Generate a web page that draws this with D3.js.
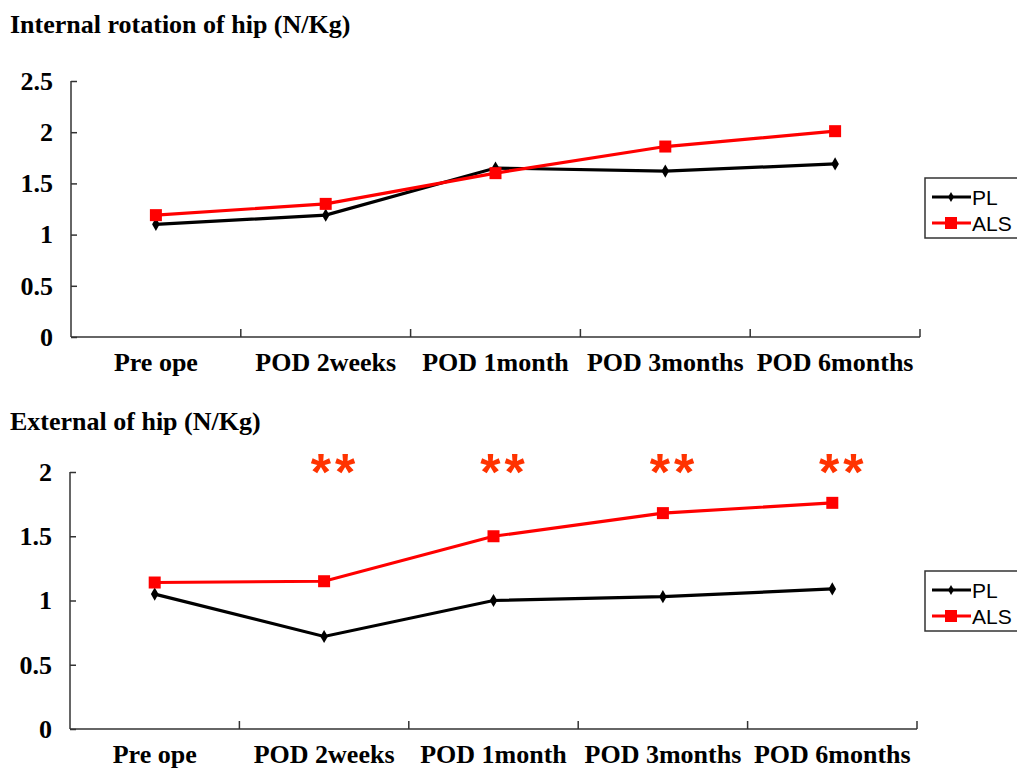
<!DOCTYPE html>
<html>
<head>
<meta charset="utf-8">
<script src="https://cdn.jsdelivr.net/npm/d3@7"></script>
<style>
	body { margin: 0; background: #fff; }
	svg { display: block; }
	.title { font-family: "Liberation Serif", "Times New Roman", serif; font-weight: bold; font-size: 26px; }
	.axis text { font-family: "Liberation Serif", "Times New Roman", serif; font-weight: bold; font-size: 26px; fill: #000; }
	.axis path, .axis line { stroke: #333; stroke-width: 1.5; }
	.legend text { font-family: "Liberation Sans", Arial, sans-serif; font-size: 21px; }
	.star { font-family: "Liberation Sans", Arial, sans-serif; font-weight: bold; font-size: 52px; fill: #ff3300; }
</style>
</head>
<body>
<svg id="chart" width="1017" height="770"></svg>
<script>
const categories = ["Pre ope", "POD 2weeks", "POD 1month", "POD 3months", "POD 6months"]

// Internal rotation of hip (N/Kg)
const internalPL = [1.10, 1.19, 1.65, 1.62, 1.69]
const internalALS = [1.19, 1.30, 1.60, 1.86, 2.01]
const internalTicks = [0, 0.5, 1, 1.5, 2, 2.5]

// External of hip (N/Kg)
const externalPL = [1.05, 0.72, 1.00, 1.03, 1.09]
const externalALS = [1.14, 1.15, 1.50, 1.68, 1.76]
const externalTicks = [0, 0.5, 1, 1.5, 2]
const externalMarks = ["", "**", "**", "**", "**"]

const seriesNames = ["PL", "ALS"]
const seriesColors = ["#000000", "#ff0000"]

const svg = d3.select("#chart")

function drawPanel(opts) {
	const g = svg.append("g")

	g.append("text")
		.attr("class", "title")
		.attr("x", 10)
		.attr("y", opts.titleY)
		.text(opts.title)

	const x = d3.scaleBand()
		.domain(categories)
		.range([opts.left, opts.right])
	const y = d3.scaleLinear()
		.domain([0, d3.max(opts.ticks)])
		.range([opts.bottom, opts.top])

	// y axis
	const yAxis = g.append("g")
		.attr("class", "axis")
		.attr("transform", `translate(${opts.left}, 0)`)
		.call(d3.axisLeft(y).tickValues(opts.ticks).tickFormat(d => d).tickSize(-6).tickPadding(18))
	yAxis.select(".domain").attr("d", `M0,${opts.top}V${opts.bottom}`)

	// x axis, ticks between categories
	const xAxis = g.append("g")
		.attr("class", "axis")
		.attr("transform", `translate(0, ${opts.bottom})`)
		.call(d3.axisBottom(x).tickSize(0).tickPadding(16))
	xAxis.select(".domain").attr("d", `M${opts.left},0H${opts.right}`)
	const bounds = categories.map(c => x(c)).concat([x.range()[1]]).slice(1)
	xAxis.selectAll(".sep")
		.data(bounds)
		.enter().append("line")
			.attr("class", "sep")
			.attr("x1", d => d).attr("x2", d => d)
			.attr("y1", 0).attr("y2", -8)

	const cx = c => x(c) + x.bandwidth() / 2
	const line = d3.line()
		.x((d, i) => cx(categories[i]))
		.y(d => y(d))

	const series = [opts.pl, opts.als]
	series.forEach((vals, s) => {
		g.append("path")
			.datum(vals)
			.attr("fill", "none")
			.attr("stroke", seriesColors[s])
			.attr("stroke-width", 3.2)
			.attr("d", line)
	})

	// PL diamonds
	g.selectAll(".pl")
		.data(opts.pl)
		.enter().append("path")
			.attr("transform", (d, i) => `translate(${cx(categories[i])}, ${y(d)})`)
			.attr("d", d3.symbol(d3.symbolDiamond, 50))
			.attr("fill", seriesColors[0])
	// ALS squares
	g.selectAll(".als")
		.data(opts.als)
		.enter().append("rect")
			.attr("x", (d, i) => cx(categories[i]) - 6)
			.attr("y", d => y(d) - 6)
			.attr("width", 12)
			.attr("height", 12)
			.attr("fill", seriesColors[1])

	if (opts.marks) {
		g.selectAll(".star")
			.data(opts.marks)
			.enter().append("text")
				.attr("class", "star")
				.attr("x", (d, i) => cx(categories[i]) + 11)
				.attr("y", opts.starY)
				.attr("text-anchor", "middle")
				.attr("letter-spacing", 4)
				.text(d => d)
	}

	// legend
	const lg = g.append("g")
		.attr("class", "legend")
		.attr("transform", `translate(925, ${opts.legendY})`)
	lg.append("rect")
		.attr("width", 110).attr("height", 60)
		.attr("fill", "#fff").attr("stroke", "#333").attr("stroke-width", 1.5)
	seriesNames.forEach((name, s) => {
		const ly = 19 + s * 26
		lg.append("line")
			.attr("x1", 7).attr("x2", 46)
			.attr("y1", ly).attr("y2", ly)
			.attr("stroke", seriesColors[s]).attr("stroke-width", 3)
		if (s === 0) {
			lg.append("path")
				.attr("transform", `translate(26, ${ly})`)
				.attr("d", d3.symbol(d3.symbolDiamond, 30))
				.attr("fill", seriesColors[0])
		} else {
			lg.append("rect")
				.attr("x", 20).attr("y", ly - 6)
				.attr("width", 12).attr("height", 12)
				.attr("fill", seriesColors[1])
		}
		lg.append("text")
			.attr("x", 47).attr("y", ly + 8)
			.attr("fill", "#000")
			.text(name)
	})
}

drawPanel({
	title: "Internal rotation of hip (N/Kg)", titleY: 33,
	left: 71, right: 920, top: 81, bottom: 337,
	ticks: internalTicks, pl: internalPL, als: internalALS,
	legendY: 178
})

drawPanel({
	title: "External of hip (N/Kg)", titleY: 430,
	left: 70, right: 917, top: 472, bottom: 729,
	ticks: externalTicks, pl: externalPL, als: externalALS,
	marks: externalMarks, starY: 490,
	legendY: 571
})
</script>
</body>
</html>
